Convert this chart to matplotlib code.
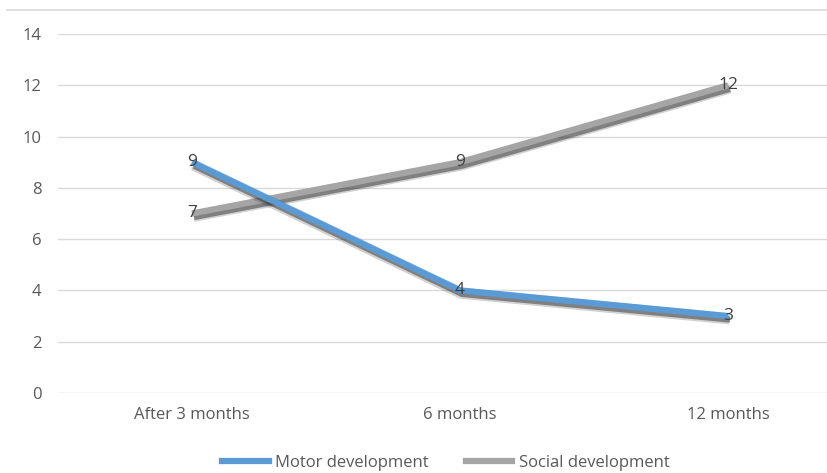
import matplotlib
matplotlib.use("Agg")
import matplotlib.pyplot as plt
import matplotlib.patheffects as pe
from matplotlib.lines import Line2D

categories = ["After 3 months", "6 months", "12 months"]
motor = [9, 4, 3]
social = [7, 9, 12]
yticks = [0, 2, 4, 6, 8, 10, 12, 14]

plt.rcParams['font.family'] = ['Open Sans', 'DejaVu Sans']

fig = plt.figure(figsize=(8.27, 4.73), dpi=100)
W, H = 827, 473
left, right = 58, 862
top, bottom = 34, 393
ax = fig.add_axes([left / W, 1 - bottom / H, (right - left) / W, (bottom - top) / H])

# top border line
fig.add_artist(Line2D([7 / W, 1], [1 - 10 / H, 1 - 10 / H], color='#d9d9d9', lw=1.2))

x = list(range(len(categories)))
shadow = [pe.SimpleLineShadow(offset=(1.0, -2.0), shadow_color='#303030', alpha=0.22, linewidth=8),
          pe.SimpleLineShadow(offset=(1.5, -2.5), shadow_color='#303030', alpha=0.5),
          pe.Normal()]
ax.plot(x, social, color='#a5a5a5', lw=4.5, solid_capstyle='butt', path_effects=shadow, zorder=3)
ax.plot(x, motor, color='#5b9bd5', lw=4.5, solid_capstyle='butt', path_effects=shadow, zorder=4)

for xi, v in zip(x, motor):
    ax.text(xi, v, str(v), ha='center', va='center', fontsize=12.5, color='#404040', zorder=5)
for xi, v in zip(x, social):
    ax.text(xi, v, str(v), ha='center', va='center', fontsize=12.5, color='#404040', zorder=5)

ax.set_xlim(-0.5, 2.5)
ax.set_ylim(0, 14)
ax.set_yticks(yticks)
ax.set_xticks(x)
ax.set_xticklabels(categories)
ax.grid(axis='y', color='#d9d9d9', lw=1)
ax.set_axisbelow(True)
for s in ax.spines.values():
    s.set_visible(False)
ax.tick_params(length=0, labelsize=12, labelcolor='#595959')
ax.tick_params(axis='y', pad=12)
ax.tick_params(axis='x', pad=10)

handles = [Line2D([], [], color='#5b9bd5', lw=4.5), Line2D([], [], color='#a5a5a5', lw=4.5)]
fig.legend(handles, ['Motor development', 'Social development'], loc='center',
           bbox_to_anchor=(0.539, 1 - 463 / H), ncol=2, frameon=False, fontsize=12,
           labelcolor='#595959', handlelength=2.8, columnspacing=2.2, handletextpad=0.4)

fig.savefig('out.png', dpi=100)
